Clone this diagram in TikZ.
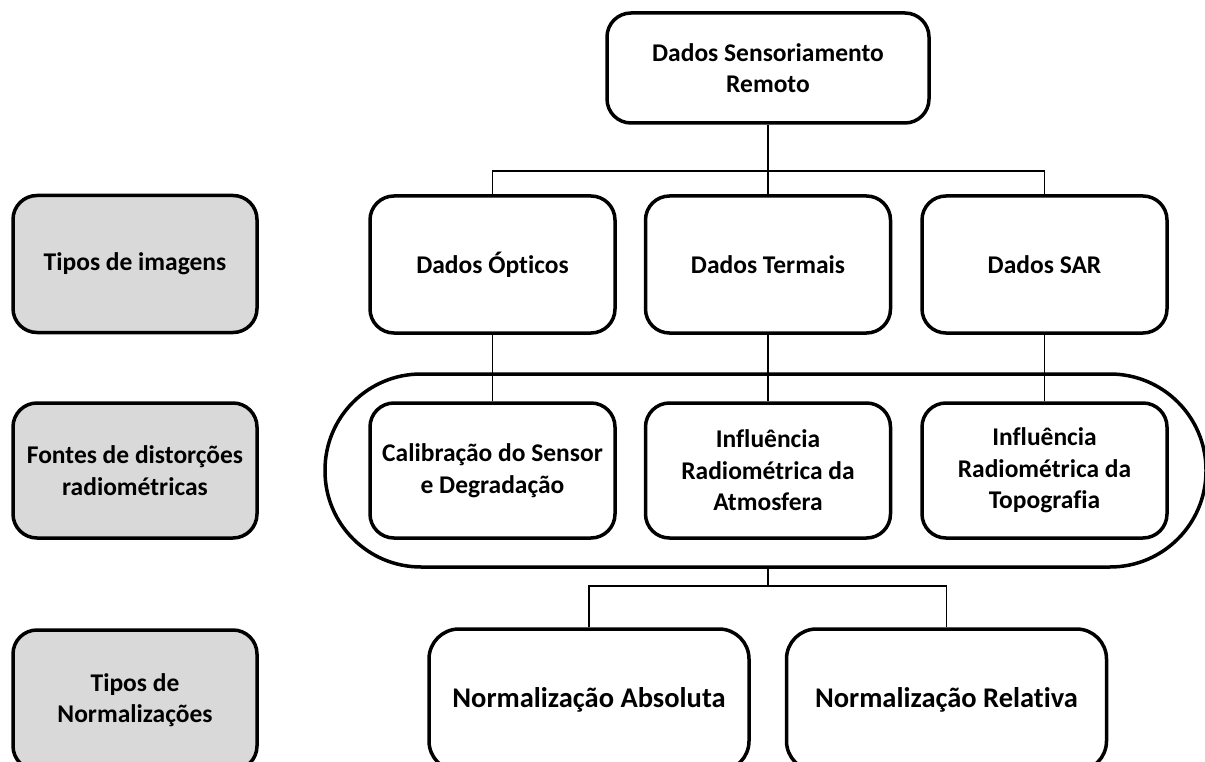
\documentclass[tikz,border=0pt]{standalone}
\usepackage{fontspec}
\setmainfont{Carlito}[Ligatures=NoCommon]
\definecolor{grayfill}{HTML}{D9D9D9}
\tikzset{
  box/.style={draw, line width=3.5pt, rounded corners=24pt, minimum width=245pt,
    minimum height=137pt, align=center, inner sep=0pt,
    font=\bfseries\fontsize{25.5}{31.5}\selectfont},
  graybox/.style={box, fill=grayfill, minimum width=244pt},
  bigbox/.style={box, rounded corners=30pt, minimum width=320pt, minimum height=142pt,
    font=\bfseries\fontsize{28.5}{34}\selectfont},
  link/.style={line width=1.3pt}
}
\begin{document}
\begin{tikzpicture}[x=1pt, y=-1pt]
  \useasboundingbox (0,0) rectangle (1205,762);

  % grupo das distorcoes
  \node[draw, line width=3.5pt, rounded corners=96pt, minimum width=881pt,
    minimum height=193pt] (fontes) at (765.5,470.5) {};

  \node[box, minimum width=322pt, minimum height=110pt] (sensor) at (768,68)
    {Dados Sensoriamento\\Remoto};

  \foreach \n/\x/\t in {optico/492.5/Dados Ópticos, termal/768/Dados Termais, sar/1044.5/Dados SAR}
    \node[box] (\n) at (\x,264.5) {\t};

  \foreach \n/\x/\t in {calib/492.5/{Calibração do Sensor\\e Degradação},
      atmos/768/{Influência\\Radiométrica da\\Atmosfera},
      topo/1044.5/{Influência\\Radiométrica da\\Topografia}}
    \node[box, minimum height=135pt] (\n) at (\x,470.5) {\t};

  % coluna da esquerda
  \node[graybox] (tipos) at (135,264) {Tipos de imagens};
  \node[graybox, minimum height=135pt] (distor) at (135,470.5) {Fontes de distorções\\radiométricas};
  \node[graybox, minimum height=140pt] (tiposnorm) at (135,700) {Tipos de\\Normalizações};

  \node[bigbox] (absol) at (589,700) {Normalização Absoluta};
  \node[bigbox] (relat) at (946.5,700) {Normalização Relativa};

  % ligacoes
  \coordinate (topjoin) at (768,171);
  \coordinate (lowjoin) at (768,586);
  \draw[link] (sensor.south) -- (topjoin) -- (termal.north);
  \draw[link] (optico.north) |- (topjoin) -| (sar.north);
  \foreach \a/\b in {optico/calib, termal/atmos, sar/topo}
    \draw[link] (\a.south) -- (\b.north);
  \draw[link] (lowjoin |- fontes.south) -- (lowjoin);
  \draw[link] (absol.north) |- (lowjoin) -| (relat.north);
\end{tikzpicture}
\end{document}
